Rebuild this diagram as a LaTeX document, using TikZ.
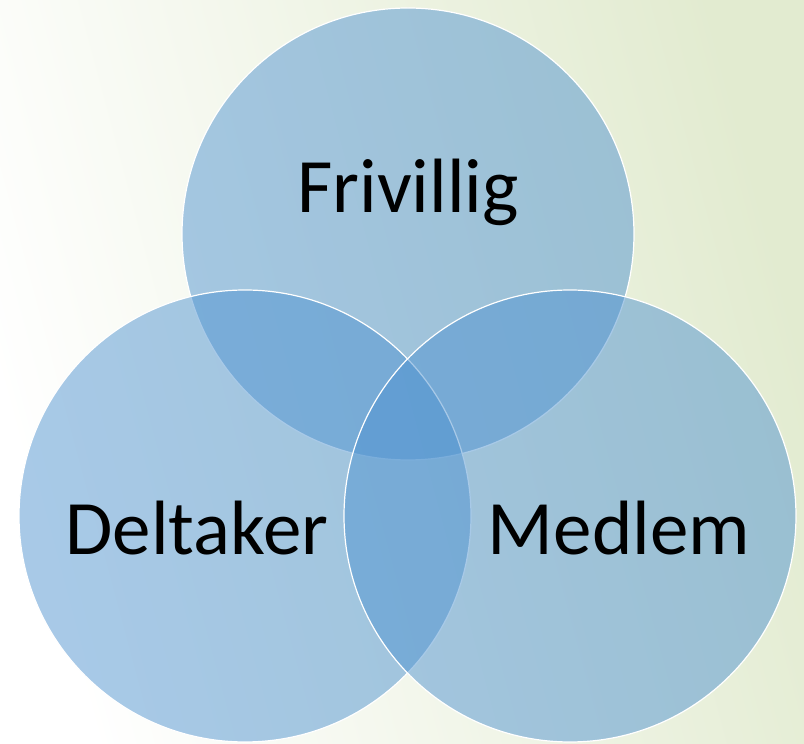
\documentclass[tikz,border=0pt]{standalone}
\usepackage{fontspec}
\setmainfont{Carlito}
\usepackage{tikz}
\usetikzlibrary{positioning}
\definecolor{vennblue}{RGB}{78,146,208}
\definecolor{bggreen}{RGB}{226,235,208}

\begin{document}
\begin{tikzpicture}[x=1pt,y=1pt]
                \tikzstyle{venn} = [circle, minimum size=452pt, inner sep=0pt, draw=white, line width=1.2pt, fill=vennblue, fill opacity=0.49]
                \tikzstyle{vennlabel} = [anchor=base, inner sep=0pt, font=\fontsize{77}{80}\selectfont, text=black]

                \shade [left color=white, right color=bggreen, shading angle=105] (0,0) rectangle (804,744);
                \useasboundingbox (0,0) rectangle (804,744);

                \node (top) [venn] at (408,510) {};
                \node (left) [venn] at (245,228) {};
                \node (right) [venn] at (570,228) {};

                \node (frivillig) [vennlabel] at ([yshift=21pt]top.center) {Frivillig};
                \node (deltaker) [vennlabel] at ([xshift=-48pt,yshift=-39pt]left.center) {Deltaker};
                \node (medlem) [vennlabel] at ([xshift=49pt,yshift=-39pt]right.center) {Medlem};
            \end{tikzpicture}
\end{document}
